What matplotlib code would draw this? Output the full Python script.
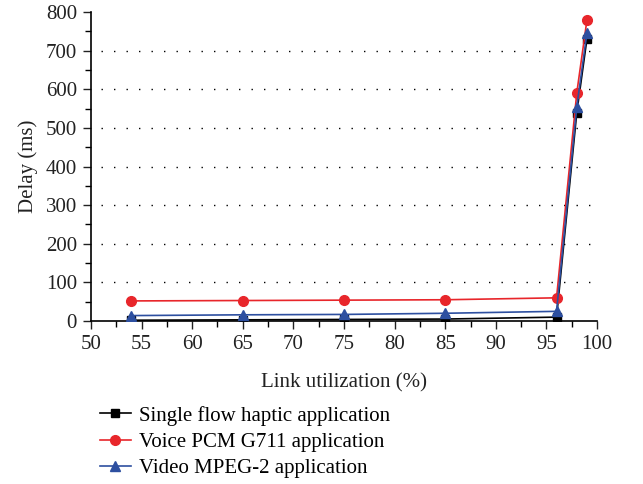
import matplotlib
matplotlib.use("Agg")
import matplotlib.pyplot as plt
from matplotlib.ticker import MultipleLocator

plt.rcParams['font.family'] = ['Liberation Serif', 'DejaVu Serif']

# link utilization (%)
util = [54, 65, 75, 85, 96, 98, 99]
# delay (ms)
haptic = [2, 3, 4, 5, 10, 540, 730]
voice = [52, 53, 54, 55, 60, 591, 779]
video = [14, 16, 17, 20, 25, 555, 746]

fig = plt.figure(figsize=(6.43, 4.84), dpi=100)
ax = fig.add_axes([0.1415, 0.3368, 0.787, 0.638])

ax.plot(util, haptic, color='black', marker='s', markersize=5.5, lw=1.2,
        label='Single flow haptic application', zorder=3)
ax.plot(util, voice, color='#e8262b', marker='o', markersize=7, lw=1.2,
        label='Voice PCM G711 application', zorder=3)
ax.plot(util, video, color='#2d4fa0', marker='^', markersize=7.5, lw=1.2,
        label='Video MPEG-2 application', zorder=3)

ax.set_xlim(50, 100)
ax.set_ylim(0, 800)
ax.xaxis.set_major_locator(MultipleLocator(5))
ax.xaxis.set_minor_locator(MultipleLocator(2.5))
ax.yaxis.set_major_locator(MultipleLocator(100))
ax.yaxis.set_minor_locator(MultipleLocator(50))
ax.tick_params(which='major', direction='out', length=6, width=1, labelsize=15,
               colors='#222222', pad=4)
ax.tick_params(which='minor', direction='out', length=4, width=1)

for y in range(100, 800, 100):
    ax.plot([51, 99.5], [y, y], color='black', lw=1, linestyle=(0, (1, 8)), zorder=1)

for s in ['top', 'right']:
    ax.spines[s].set_visible(False)
for s in ['left', 'bottom']:
    ax.spines[s].set_linewidth(1.2)

ax.set_xlabel('Link utilization (%)', fontsize=15, color='#222222', labelpad=14)
ax.set_ylabel('Delay (ms)', fontsize=15, color='#222222', labelpad=6)

fig.legend(loc='upper left', bbox_to_anchor=(0.142, 0.179), frameon=False,
           fontsize=15, handlelength=1.5, labelspacing=0.32, handletextpad=0.4,
           borderaxespad=0)

fig.savefig('out.png', dpi=100)
